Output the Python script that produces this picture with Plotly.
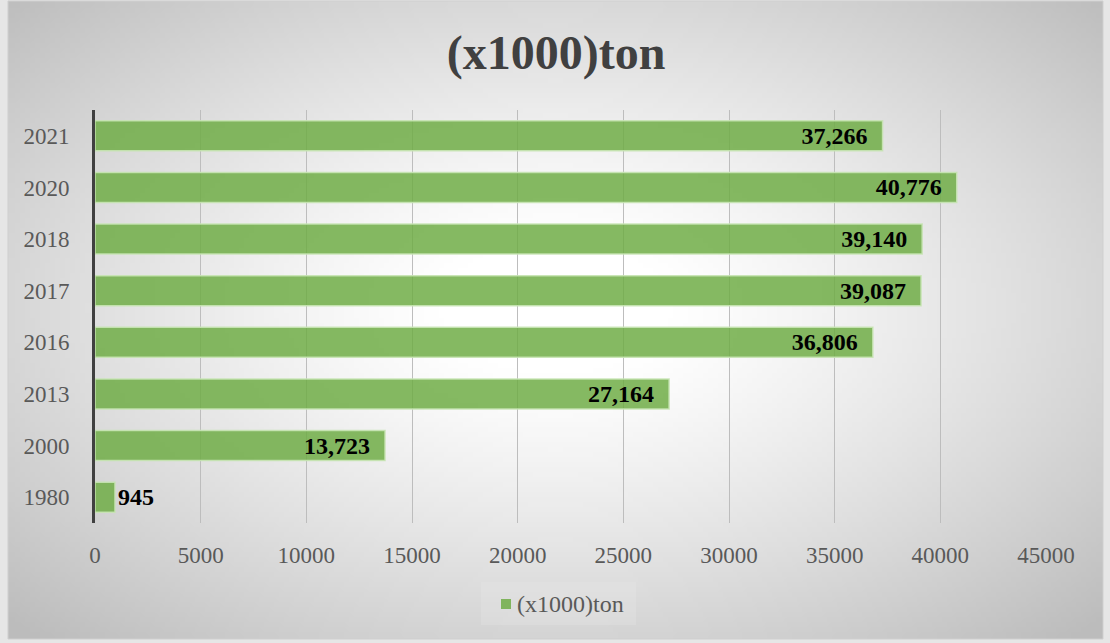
import base64
import struct
import zlib

import plotly.graph_objects as go

# ---------------- data ----------------
years = ["1980", "2000", "2013", "2016", "2017", "2018", "2020", "2021"]
values = [945, 13723, 27164, 36806, 39087, 39140, 40776, 37266]
series_name = "(x1000)ton"
x_ticks = [0, 5000, 10000, 15000, 20000, 25000, 30000, 35000, 40000, 45000]

# ---------------- geometry ----------------
W, H = 1110, 643
ML, MR, MT, MB = 95, 64, 110, 120
PW = W - ML - MR
PH = H - MT - MB

GREEN = "rgba(112,173,71,0.85)"
SERIF = "Liberation Serif"


def gradient_png(w, h):
    rows = []
    cx, cy = 0.50, 0.48
    for j in range(h):
        row = bytearray([0])
        fy = j / (h - 1)
        for i in range(w):
            fx = i / (w - 1)
            d = (((fx - cx) / 0.5) ** 2 + ((fy - cy) / 0.5) ** 2) ** 0.5 / (2 ** 0.5)
            t = max(0.0, (d - 0.14) / 0.86)
            t = min(1.0, t) ** 1.2
            v = int(round(255 - (255 - 188) * t))
            row.append(v)
        rows.append(bytes(row))
    raw = b"".join(rows)

    def chunk(tag, data):
        c = struct.pack(">I", len(data)) + tag + data
        return c + struct.pack(">I", zlib.crc32(tag + data) & 0xFFFFFFFF)

    png = b"\x89PNG\r\n\x1a\n"
    png += chunk(b"IHDR", struct.pack(">IIBBBBB", w, h, 8, 0, 0, 0, 0))
    png += chunk(b"IDAT", zlib.compress(raw, 9))
    png += chunk(b"IEND", b"")
    return "data:image/png;base64," + base64.b64encode(png).decode()


bg = gradient_png(220, 128)

# background box in pixel coords -> paper coords
bx0, bx1, by0, by1 = 8, 1103, 1, 639
px = lambda p: (p - ML) / PW
py = lambda p: (H - MB - p) / PH

text_pos = ["outside" if v < 3000 else "inside" for v in values]
text_tpl = ["%{x:,}" if v < 3000 else "%{x:,}\u00a0\u00a0" for v in values]
lab_font = dict(family=SERIF, size=24, color="black", weight="bold")

fig = go.Figure(
    go.Bar(
        x=values,
        y=years,
        orientation="h",
        name=series_name,
        marker=dict(color=GREEN, line=dict(color="rgba(200,228,180,0.9)", width=1.5)),
        width=0.58,
        texttemplate=text_tpl,
        textposition=text_pos,
        insidetextanchor="end",
        constraintext="none",
        textfont=lab_font,
        insidetextfont=lab_font,
        outsidetextfont=lab_font,
        cliponaxis=False,
        showlegend=False,
    )
)

# legend-like key (box, swatch, label)
shapes = [
    dict(type="rect", xref="paper", yref="paper",
         x0=px(bx0), x1=px(bx1), y0=py(by1), y1=py(by0),
         line=dict(color="#cfcfcf", width=1), fillcolor="rgba(0,0,0,0)", layer="below"),
    dict(type="rect", xref="paper", yref="paper",
         x0=px(481), x1=px(636), y0=py(625), y1=py(582),
         line=dict(width=0), fillcolor="rgba(235,235,235,0.25)", layer="below"),
    dict(type="rect", xref="paper", yref="paper",
         x0=px(501), x1=px(511), y0=py(609), y1=py(599),
         line=dict(width=0), fillcolor=GREEN, layer="above"),
]

fig.update_layout(
    width=W,
    height=H,
    margin=dict(l=ML, r=MR, t=MT, b=MB, pad=0),
    paper_bgcolor="#e6e6e6",
    plot_bgcolor="rgba(0,0,0,0)",
    showlegend=False,
    title=dict(
        text=series_name,
        x=556 / W,
        xanchor="center",
        y=1 - 52 / H,
        yanchor="middle",
        font=dict(family=SERIF, size=48, color="#404040", weight="bold"),
    ),
    xaxis=dict(
        range=[0, 45000],
        tickvals=x_ticks,
        ticktext=[str(t) for t in x_ticks],
        showgrid=True,
        gridcolor="#bdbdbd",
        gridwidth=1,
        zeroline=False,
        showline=False,
        ticks="",
        ticklabelstandoff=16,
        tickfont=dict(family=SERIF, size=23, color="#595959"),
        fixedrange=True,
    ),
    yaxis=dict(
        type="category",
        categoryorder="array",
        categoryarray=years,
        showgrid=False,
        zeroline=False,
        showline=True,
        linecolor="#404040",
        linewidth=3,
        ticks="",
        ticklabelstandoff=18,
        tickfont=dict(family=SERIF, size=23, color="#595959"),
        fixedrange=True,
    ),
    bargap=0.42,
    annotations=[
        dict(text=series_name, xref="paper", yref="paper",
             x=px(515), y=py(604), xanchor="left", yanchor="middle",
             showarrow=False, font=dict(family=SERIF, size=24, color="#595959")),
    ],
    images=[
        dict(
            source=bg,
            xref="paper",
            yref="paper",
            x=px(bx0),
            y=py(by0),
            sizex=(bx1 - bx0) / PW,
            sizey=(by1 - by0) / PH,
            xanchor="left",
            yanchor="top",
            sizing="stretch",
            layer="below",
        )
    ],
    shapes=shapes,
)

fig.write_html(
    "out.html",
    config={"displayModeBar": False},
    post_script="document.body.style.margin='0px';",
)
